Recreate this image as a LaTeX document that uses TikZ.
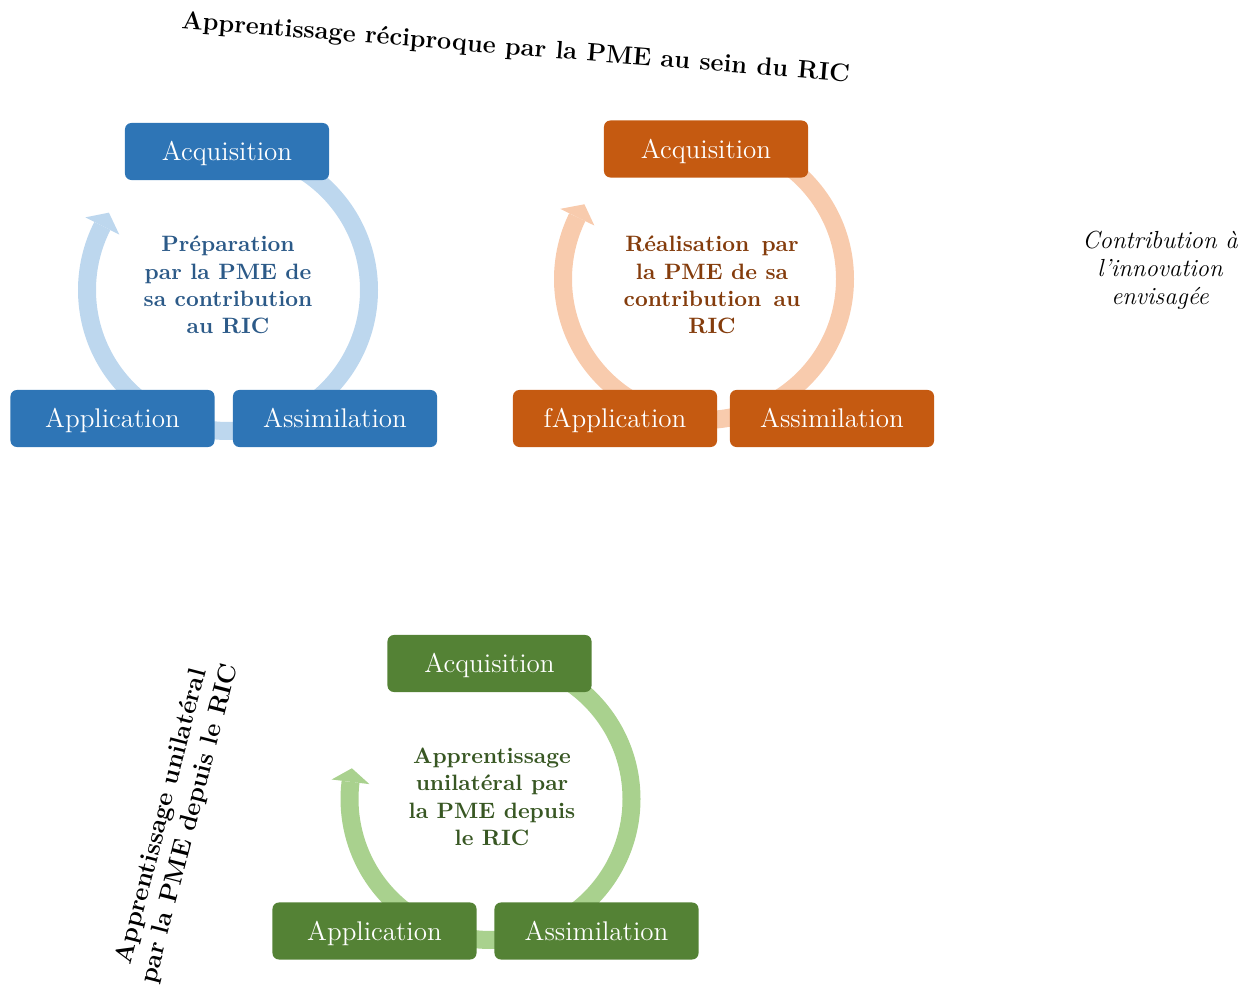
\documentclass[tikz,border=0pt]{standalone}
\definecolor{nblue}{HTML}{2E75B6}
\definecolor{ablue}{HTML}{BDD7EE}
\definecolor{tblue}{HTML}{2C5A88}
\definecolor{norange}{HTML}{C55A11}
\definecolor{aorange}{HTML}{F8CBAD}
\definecolor{torange}{HTML}{843C0C}
\definecolor{ngreen}{HTML}{548235}
\definecolor{agreen}{HTML}{A9D18E}
\definecolor{tgreen}{HTML}{385723}
\begin{document}
\begin{tikzpicture}[x=0.47pt,y=0.47pt,
  box/.style={rounded corners=3pt, minimum width=95.9pt, minimum height=26.8pt, inner sep=0pt, text height=8.6pt, text depth=0pt, text=white, font=\fontsize{12.7}{15}\selectfont},
  ring/.style={line width=8.46pt},
  midtext/.style={align=center, font=\fontsize{10.45}{12.83}\selectfont\bfseries, inner sep=0pt},
  bluebox/.style={box, fill=nblue},
  orangebox/.style={box, fill=norange},
  greenbox/.style={box, fill=ngreen}]
\useasboundingbox (0,0) rectangle (1255,-990);

% ---- blue cycle ----
\coordinate (cB) at (228,-290);
\draw[ring, ablue] ([shift={(90:141)}]cB) arc[start angle=90, end angle=-207, radius=141];
\fill[ablue] ([shift={(153:122)}]cB) -- ([shift={(147:142)}]cB) -- ([shift={(153:160)}]cB) -- cycle;
\node[bluebox] (bAcq) at (227,-151.5) {Acquisition};
\node[bluebox] (bApp) at (112.5,-418.5) {Application};
\node[bluebox] (bAss) at (335,-418.5) {Assimilation};
\node[midtext, text=tblue] (bTxt) at (228,-285) {Préparation\\par la PME de\\sa contribution\\au RIC};

% ---- orange cycle ----
\coordinate (cO) at (704,-279);
\draw[ring, aorange] ([shift={(90:141)}]cO) arc[start angle=90, end angle=-206, radius=141];
\fill[aorange] ([shift={(154:122)}]cO) -- ([shift={(148:141)}]cO) -- ([shift={(154:160)}]cO) -- cycle;
\node[orangebox] (oAcq) at (706,-149) {Acquisition};
\node[orangebox] (oApp) at (615,-418.5) {fApplication};
\node[orangebox] (oAss) at (832,-418.5) {Assimilation};
\node[midtext, text=torange] (oTxt) at (712,-285) {\makebox[81.5pt][s]{Réalisation par}\\la PME de sa\\\makebox[83pt][s]{contribution au}\\RIC};

% ---- green cycle ----
\coordinate (cG) at (490.5,-799);
\draw[ring, agreen] ([shift={(90:141)}]cG) arc[start angle=90, end angle=-187, radius=141];
\fill[agreen] ([shift={(173:122)}]cG) -- ([shift={(167.5:142)}]cG) -- ([shift={(173:160)}]cG) -- cycle;
\node[greenbox] (gAcq) at (489.5,-663.5) {Acquisition};
\node[greenbox] (gApp) at (374.5,-931) {Application};
\node[greenbox] (gAss) at (596.5,-931) {Assimilation};
\node[midtext, text=tgreen] (gTxt) at (492,-797) {Apprentissage\\unilatéral par\\la PME depuis\\le RIC};

% ---- free texts ----
\node[rotate=-4.6, anchor=base, inner sep=0pt, font=\fontsize{11.85}{14}\selectfont\bfseries] (title) at (515,-55) {Apprentissage réciproque par la PME au sein du RIC};
\node[rotate=75.5, align=center, inner sep=0pt, font=\fontsize{11.9}{13.6}\selectfont\bfseries] (side) at (176,-820) {Apprentissage unilatéral\\par la PME depuis le RIC};
\node[align=center, inner sep=0pt, font=\fontsize{11.6}{13.2}\selectfont\itshape] (contrib) at (1160,-270) {Contribution à\\l’innovation\\envisagée};
\end{tikzpicture}
\end{document}
